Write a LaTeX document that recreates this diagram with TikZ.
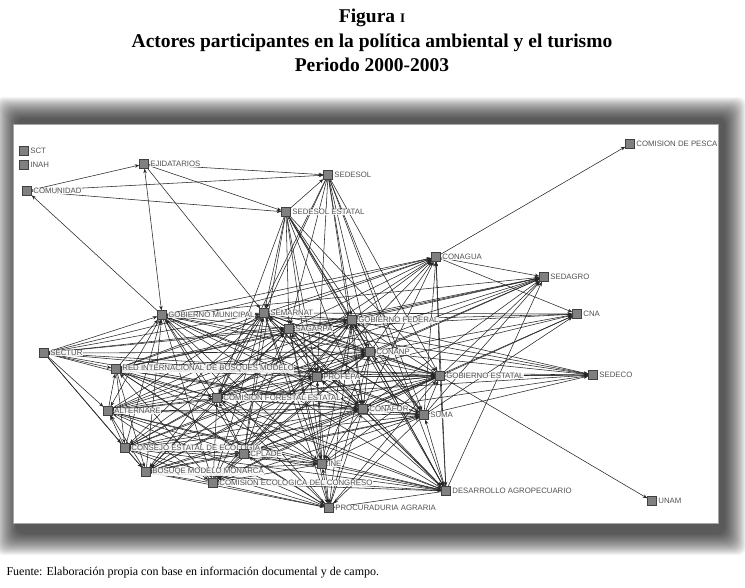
\documentclass[tikz,border=0pt]{standalone}
\usepackage{fontspec}
\setmainfont{Liberation Serif}
\newfontfamily\lblfont{Liberation Sans}
\usetikzlibrary{arrows.meta}
\begin{document}
\begin{tikzpicture}[x=1pt,y=-1pt,
  slot/.style={rectangle,minimum size=9pt,inner sep=0pt},
  actor/.style={rectangle,draw=black!75,fill=black!50,minimum size=9pt,inner sep=0pt,line width=0.6pt},
  lbl/.style={font=\lblfont\fontsize{7.8}{8}\selectfont,text=black!68,fill=white,fill opacity=0.88,text opacity=1,inner sep=0.4pt,anchor=west},
  tie/.style={draw=black!85,line width=0.55pt,-{Stealth[length=4.5pt,width=3.5pt]}},
  twotie/.style={draw=black!85,line width=0.55pt,{Stealth[length=4.5pt,width=3.5pt]}-{Stealth[length=4.5pt,width=3.5pt]}},
  ttl/.style={font=\bfseries\fontsize{19.5}{22}\selectfont,anchor=center}
]
\useasboundingbox (0,0) rectangle (745,587);
\fill[white] (0,0) rectangle (745,587);
% titles
\node[ttl] (t1) at (372,18) {Figura {\fontsize{13}{14}\selectfont I}};
\node[ttl] (t2) at (372,43) {Actores participantes en la política ambiental y el turismo};
\node[ttl] (t3) at (372,65) {Periodo 2000-2003};
\node[anchor=west,font=\fontsize{12}{14}\selectfont] (src) at (3,573) {Fuente: Elaboración propia con base en información documental y de campo.};
% shadow
\begin{scope}
\clip (0,90) rectangle (745,560);
\foreach \k in {0,...,21}{
  \fill[black,opacity=0.042,rounded corners=8pt] (16-\k,118-\k) rectangle (725+\k,534+\k);
}
\end{scope}
\fill[white] (13,124) rectangle (718,523);
\draw[black!35,line width=0.4pt] (13,124) rectangle (718,523);
\begin{scope}
\clip (13,124) rectangle (718,523);
% node slots
\foreach \n/\x/\y in {sct/24/151,inah/24/165,com/27/191,eji/144/164,sds/328/175,sdse/286/212,pesca/630/144,cag/436/257,sedagro/544/277,gm/162/315,sem/264/313,sgp/289/329,gf/352/320,tur/44/353,red/116/369,prof/317/377,anp/370/352,ge/440/376,cfe/217/398,alt/108/411,caf/363/409,cee/125/448,cpl/244/454,ine/322/464,bmm/146/472,cec/213/483,pa/329/508,cna/577/314,sdc/593/375,suma/424/415,da/446/491,unam/652/501}{
  \node[slot] (\n) at (\x,\y) {};
}
% core network
\foreach \a [count=\i] in {gm,sem,sgp,gf,anp,prof,ge,cfe,caf,suma,ine,red,alt,cee,cpl,bmm,cec,pa,da}{
  \foreach \b [count=\j] in {gm,sem,sgp,gf,anp,prof,ge,cfe,caf,suma,ine,red,alt,cee,cpl,bmm,cec,pa,da}{
    \ifnum\i<\j
      \ifodd\numexpr\i+\j\relax
        \draw[tie] (\b) -- (\a);
      \else
        \draw[tie] (\a) -- (\b);
      \fi
    \fi
  }
}
% peripheral ties
\foreach \s/\t in {com/eji,com/sds,com/sdse,eji/sds,eji/sdse,eji/sem,gm/com,sdse/sds,cag/pesca,cag/cna,ge/unam,
  sds/sem,sds/sgp,sds/gf,sds/anp,sds/prof,sds/ge,sds/caf,sds/suma,sds/da,sds/cfe,
  sdse/sem,sdse/sgp,sdse/gf,sdse/anp,sdse/prof,sdse/ge,sdse/caf,sdse/suma,sdse/ine,sdse/da,sdse/cfe,sdse/cpl,
  gm/cag,sem/cag,sgp/cag,gf/cag,anp/cag,prof/cag,ge/cag,cfe/cag,caf/cag,suma/cag,red/cag,tur/cag,da/cag,
  gf/sedagro,anp/sedagro,ge/sedagro,suma/sedagro,caf/sedagro,prof/sedagro,sgp/sedagro,red/sedagro,cfe/sedagro,alt/sedagro,da/sedagro,gm/sedagro,
  gf/cna,anp/cna,ge/cna,suma/cna,sem/cna,sgp/cna,prof/cna,caf/cna,
  ge/sdc,suma/sdc,anp/sdc,gf/sdc,sgp/sdc,prof/sdc,caf/sdc,cfe/sdc,sem/sdc,red/sdc,
  tur/gm,tur/red,tur/alt,tur/cee,tur/bmm,tur/cfe,tur/sem,tur/gf,tur/anp,tur/prof,tur/caf,tur/ge,tur/sgp}{
  \draw[tie] (\s) -- (\t);
}
\draw[twotie] (eji) -- (gm);
\draw[twotie] (cag) -- (sedagro);
% visible actors and labels
\foreach \n/\t in {sct/SCT,inah/INAH,com/COMUNIDAD,eji/EJIDATARIOS,sds/SEDESOL,sdse/SEDESOL ESTATAL,pesca/COMISION DE PESCA,cag/CONAGUA,sedagro/SEDAGRO,gm/GOBIERNO MUNICIPAL,sem/SEMARNAT,sgp/SAGARPA,gf/GOBIERNO FEDERAL,tur/SECTUR,red/RED INTERNACIONAL DE BOSQUES MODELO,prof/PROFEPA,anp/CONANP,ge/GOBIERNO ESTATAL,cfe/COMISION FORESTAL ESTATAL,alt/ALTERNARE,caf/CONAFOR,cee/CONSEJO ESTATAL DE ECOLOGIA,ine/INE,bmm/BOSUQE MODELO MONARCA,cec/COMISION ECOLOGICA DEL CONGRESO,pa/PROCURADURIA AGRARIA,cna/CNA,sdc/SEDECO,suma/SUMA,da/DESARROLLO AGROPECUARIO,unam/UNAM,cpl/CPLADE}{
  \node[actor] (v\n) at (\n) {};
  \node[lbl] (l\n) at ([xshift=1pt]v\n.east) {\t};
}
\end{scope}
\end{tikzpicture}
\end{document}
